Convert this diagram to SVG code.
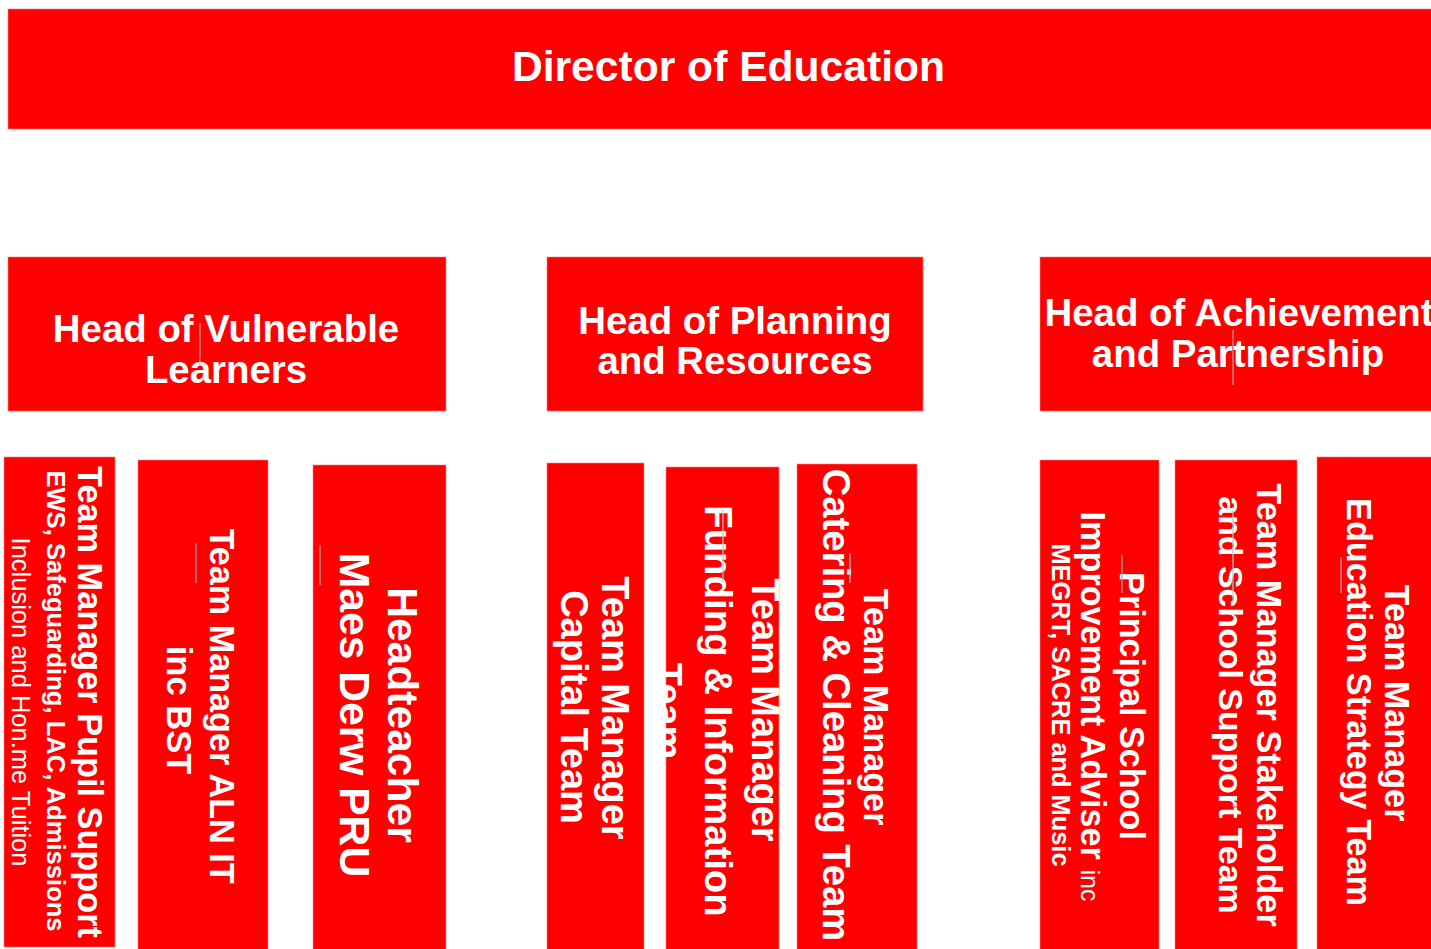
<svg xmlns="http://www.w3.org/2000/svg" width="1431" height="949" viewBox="0 0 1431 949">
<style>
.box{fill:#FF0000;stroke:#FF8080;stroke-width:0.6}
.t{font-family:"Liberation Sans",Arial,Helvetica,sans-serif;fill:#FFFFFF;font-weight:bold;text-anchor:middle}
.n{font-weight:normal}
.mark{stroke:#A8A8A8;stroke-width:1.2;fill:none}
.markb{stroke:#9FD0D0;stroke-width:1.2;fill:none}
</style>
<rect width="1431" height="949" fill="#FFFFFF"/>
<g id="connectors"></g>

<g id="director">
<rect class="box" x="8" y="9" width="1430" height="120"/>
<text class="t" x="728.5" y="81" font-size="42.6">Director of Education</text>
</g>

<g id="head-vulnerable">
<rect class="box" x="8" y="257" width="438" height="154"/>
<text class="t" font-size="38.4"><tspan x="226" y="342">Head of Vulnerable</tspan><tspan x="226" y="383">Learners</tspan></text>
<line class="mark" x1="200" y1="323" x2="200" y2="365"/>
</g>

<g id="head-planning">
<rect class="box" x="547" y="257" width="376" height="154"/>
<text class="t" font-size="38.4"><tspan x="735" y="334">Head of Planning</tspan><tspan x="735" y="374">and Resources</tspan></text>
</g>

<g id="head-achievement">
<rect class="box" x="1040" y="257" width="395" height="154"/>
<text class="t" font-size="38.4"><tspan x="1239" y="326">Head of Achievement</tspan><tspan x="1238" y="367">and Partnership</tspan></text>
<line class="mark" x1="1233" y1="330" x2="1233" y2="385"/>
</g>

<g id="tm-pupil-support">
<rect class="box" x="4" y="457" width="111" height="490"/>
<text class="t" font-size="34.3" transform="translate(78,702) rotate(90)">Team Manager Pupil Support</text>
<text class="t" font-size="25.6" transform="translate(47,701) rotate(90)">EWS, Safeguarding, LAC, Admissions</text>
<text class="t n" font-size="25.5" transform="translate(12,702) rotate(90)">Inclusion and Hon.me Tuition</text>
</g>

<g id="tm-aln">
<rect class="box" x="138" y="460" width="130" height="492"/>
<text class="t" font-size="34.2" transform="translate(210,706) rotate(90)">Team Manager ALN IT</text>
<text class="t" font-size="34.5" transform="translate(167,710) rotate(90)">inc BST</text>
<line class="mark" x1="196" y1="543" x2="196" y2="583"/>
</g>

<g id="headteacher-pru">
<rect class="box" x="313" y="465" width="133" height="487"/>
<text class="t" font-size="42.6" transform="translate(388,715) rotate(90)">Headteacher</text>
<text class="t" font-size="42.6" transform="translate(340,715) rotate(90)">Maes Derw PRU</text>
<line class="mark" x1="320" y1="545" x2="320" y2="585"/>
</g>

<g id="tm-capital">
<rect class="box" x="547" y="463" width="97" height="489"/>
<text class="t" font-size="38" transform="translate(602,708) rotate(90)">Team Manager</text>
<text class="t" font-size="38" transform="translate(561,707) rotate(90)">Capital Team</text>
</g>

<g id="tm-funding">
<rect class="box" x="666" y="467" width="113" height="485"/>
<text class="t" font-size="38" transform="translate(752,710) rotate(90)">Team Manager</text>
<text class="t" font-size="38.4" transform="translate(705,711) rotate(90)">Funding &amp; Information</text>
<text class="t" font-size="38" transform="translate(655,711) rotate(90)">Team</text>
<line class="markb" x1="723" y1="510" x2="723" y2="583"/>
</g>

<g id="tm-catering">
<rect class="box" x="797" y="464" width="120" height="488"/>
<text class="t" font-size="34.2" transform="translate(864,707) rotate(90)">Team Manager</text>
<text class="t" font-size="38.2" transform="translate(823,705) rotate(90)">Catering &amp; Cleaning Team</text>
<line class="markb" x1="850" y1="553" x2="850" y2="583"/>
</g>

<g id="principal-sia">
<rect class="box" x="1040" y="460" width="119" height="492"/>
<text class="t" font-size="34.2" transform="translate(1120,706) rotate(90)">Principal School</text>
<text class="t" font-size="34.2" transform="translate(1081,706.5) rotate(90)">Improvement Adviser  <tspan class="n" font-size="25">inc</tspan></text>
<text class="t" font-size="25.4" transform="translate(1052,705) rotate(90)">MEGRT, SACRE and Music</text>
<line class="mark" x1="1122" y1="555" x2="1122" y2="593"/>
</g>

<g id="tm-stakeholder">
<rect class="box" x="1175" y="460" width="122" height="492"/>
<text class="t" font-size="34.3" transform="translate(1257,705) rotate(90)">Team Manager Stakeholder</text>
<text class="t" font-size="33.9" transform="translate(1219,705) rotate(90)">and School Support Team</text>
<line class="markb" x1="1233" y1="510" x2="1233" y2="602"/>
</g>

<g id="tm-education-strategy">
<rect class="box" x="1317" y="457" width="120" height="495"/>
<text class="t" font-size="34.2" transform="translate(1385,703) rotate(90)">Team Manager</text>
<text class="t" font-size="34.2" transform="translate(1347,702) rotate(90)">Education Strategy Team</text>
<line class="mark" x1="1341" y1="557" x2="1341" y2="593"/>
</g>
</svg>
